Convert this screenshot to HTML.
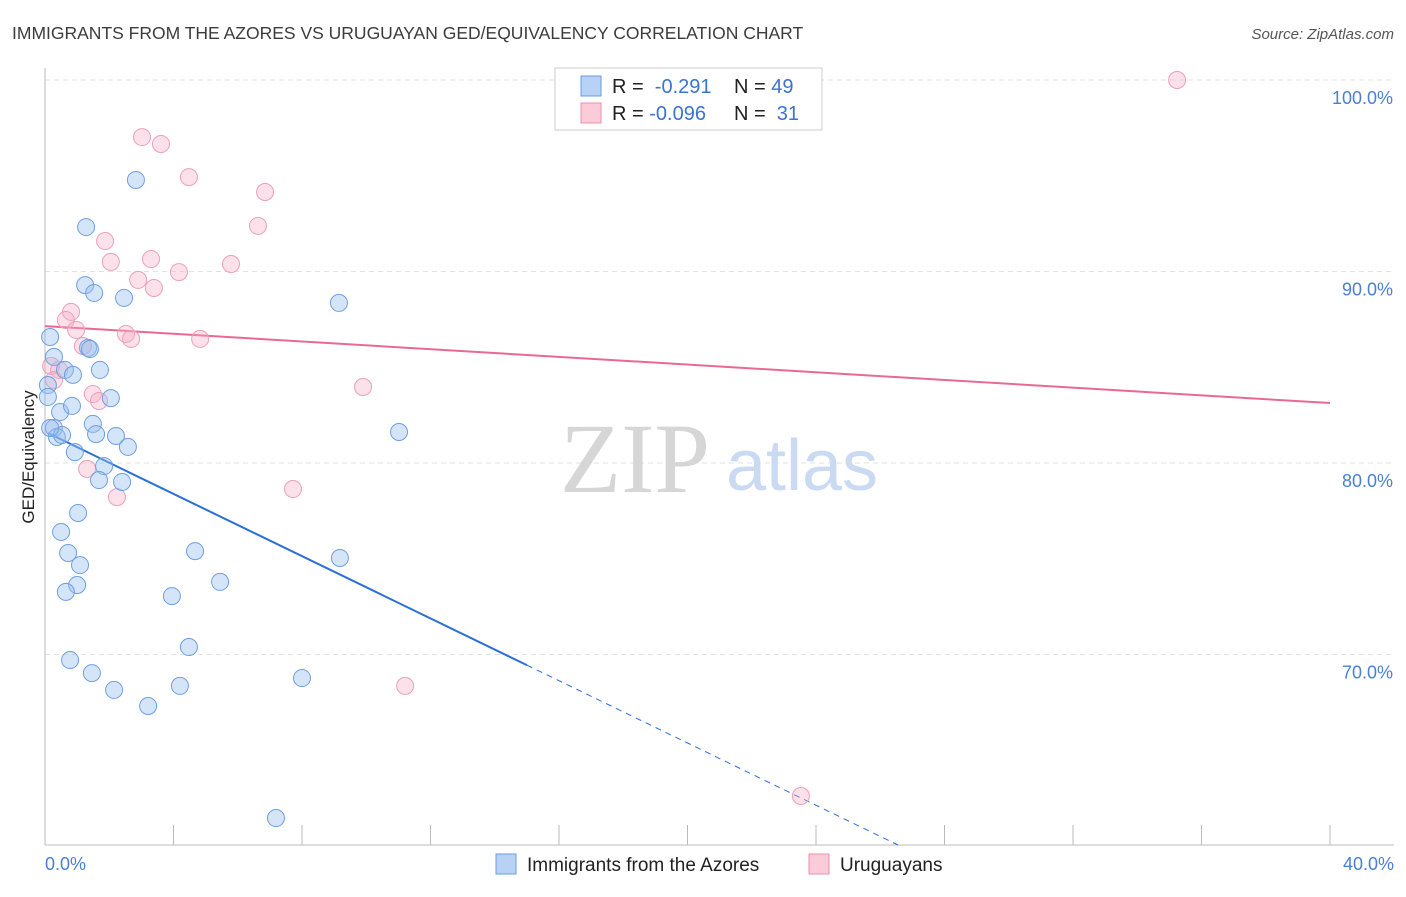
<!DOCTYPE html>
<html><head><meta charset="utf-8"><style>
body{margin:0;background:#fff;font-family:"Liberation Sans",sans-serif;}
svg text{font-family:"Liberation Sans",sans-serif;}
</style></head><body>
<svg width="1406" height="892" xmlns="http://www.w3.org/2000/svg" id="chart">
<text x="12" y="39" font-size="17.5" fill="#3c3c3c">IMMIGRANTS FROM THE AZORES VS URUGUAYAN GED/EQUIVALENCY CORRELATION CHART</text>
<text x="1394" y="39" font-size="15" fill="#555" font-style="italic" text-anchor="end">Source: ZipAtlas.com</text>
<g id="grid"></g>
<g>
<text x="635" y="492" font-size="100" fill="#d6d6d6" style="font-family:'Liberation Serif',serif" text-anchor="middle">ZIP</text>
<text x="802" y="490" font-size="72" fill="#c9daf2" text-anchor="middle">atlas</text>
</g>
<line x1="45" y1="68" x2="45" y2="845" stroke="#bbb"/>
<line x1="45" y1="845" x2="1394" y2="845" stroke="#bbb"/>
<g id="trends"></g>
<g id="points"></g>
<text transform="translate(34,457) rotate(-90)" font-size="17" fill="#222" text-anchor="middle">GED/Equivalency</text>
<text x="45" y="870" font-size="18" fill="#4a7fd4">0.0%</text>
<text x="1394" y="870" font-size="18" fill="#4a7fd4" text-anchor="end">40.0%</text>
<g>
<rect x="555" y="68" width="267" height="62" fill="#fff" stroke="#ccc"/>
<rect x="581" y="76" width="20" height="20" fill="#b8d2f5" stroke="#6b9be0"/>
<rect x="581" y="103" width="20" height="20" fill="#fbcbd9" stroke="#e890ab"/>
<text x="612" y="93" font-size="20" fill="#222">R = <tspan fill="#3b73d1">&#160;-0.291</tspan></text>
<text x="734" y="93" font-size="20" fill="#222">N = <tspan fill="#3b73d1">49</tspan></text>
<text x="612" y="120" font-size="20" fill="#222">R = <tspan fill="#3b73d1">-0.096</tspan></text>
<text x="734" y="120" font-size="20" fill="#222">N = <tspan fill="#3b73d1">&#160;31</tspan></text>
</g>
<g>
<rect x="496" y="854" width="20" height="20" fill="#b8d2f5" stroke="#6b9be0"/>
<text x="527" y="871" font-size="19" fill="#222">Immigrants from the Azores</text>
<rect x="809" y="854" width="20" height="20" fill="#fbcbd9" stroke="#e890ab"/>
<text x="840" y="871" font-size="19" fill="#222">Uruguayans</text>
</g>
</svg>
<script>
const yTicks=[100,90,80,70];
const xTickCount=10;
const xMax=40;
const blueX=[2.83,1.28,1.25,1.53,2.46,9.15,0.16,0.28,1.34,1.40,0.62,0.87,1.71,0.09,0.09,2.05,0.47,0.84,1.49,0.28,0.37,0.53,1.59,2.21,2.58,0.93,11.02,1.84,1.68,2.40,1.03,0.50,0.72,1.09,4.67,9.18,1.00,0.65,5.45,3.95,4.48,0.78,1.46,2.15,4.20,8.00,3.21,7.19,0.16];
const blueY=[94.78,92.32,89.29,88.88,88.62,88.36,86.58,85.54,86.01,85.95,84.86,84.60,84.86,84.07,83.45,83.39,82.66,82.98,82.04,81.83,81.36,81.46,81.51,81.41,80.84,80.57,81.62,79.84,79.11,79.01,77.39,76.40,75.30,74.67,75.40,75.04,73.63,73.27,73.79,73.05,70.39,69.71,69.03,68.15,68.36,68.77,67.31,61.46,81.83];
const pinkX=[35.24,3.02,3.61,4.48,6.85,6.63,1.87,2.05,3.30,5.79,4.17,2.90,3.39,0.81,0.65,0.97,2.52,2.68,4.83,1.18,0.19,0.44,0.28,1.49,1.68,9.90,1.31,2.24,7.72,11.21,23.53];
const pinkY=[100.0,97.02,96.66,94.93,94.15,92.38,91.59,90.50,90.65,90.39,89.97,89.56,89.14,87.89,87.47,86.95,86.74,86.48,86.48,86.11,85.07,84.86,84.33,83.60,83.24,83.97,79.69,78.22,78.64,68.36,62.61];
const blueTrend=[81.64,-0.813];
const pinkTrend=[87.15,-0.1005];
const blueSolidEnd=15.0;
const NS="http://www.w3.org/2000/svg";
const xs=v=>45+v/xMax*1285;
const ys=v=>80+(100-v)*19.15;
function mk(tag,attrs,parent){const e=document.createElementNS(NS,tag);for(const k in attrs)e.setAttribute(k,attrs[k]);parent.appendChild(e);return e;}
const grid=document.getElementById('grid');
yTicks.forEach(t=>{
 const l=mk('line',{x1:45,x2:1394,y1:ys(t),y2:ys(t),stroke:'#e2e2e2','stroke-dasharray':'5,4'},grid);
 
 
 const tx=mk('text',{x:1393,y:ys(t)+24,'font-size':18,fill:'#4a7fd4','text-anchor':'end'},grid);
 tx.textContent=t.toFixed(1)+'%';
 
 
});
for(let i=1;i<=xTickCount;i++){
 const l=mk('line',{x1:xs(i*xMax/xTickCount),x2:xs(i*xMax/xTickCount),y1:825,y2:845,stroke:'#bbb'},grid);
 
 
}
const pts=document.getElementById('points');
pinkX.forEach((x,i)=>{
 const c=mk('circle',{cx:xs(x),cy:ys(pinkY[i]),r:8.5,fill:'rgba(245,170,195,0.35)',stroke:'#eba0b8','stroke-width':1},pts);
 
 
});
blueX.forEach((x,i)=>{
 const c=mk('circle',{cx:xs(x),cy:ys(blueY[i]),r:8.5,fill:'rgba(150,190,240,0.4)',stroke:'#6f9fe0','stroke-width':1},pts);
 
 
});
const tr=document.getElementById('trends');
const bf=x=>blueTrend[0]+blueTrend[1]*x;
const pf=x=>pinkTrend[0]+pinkTrend[1]*x;
let l=mk('line',{x1:xs(0.1),y1:ys(bf(0.1)),x2:xs(blueSolidEnd),y2:ys(bf(blueSolidEnd)),stroke:'#2a6fd8','stroke-width':2},tr);


const xEnd=(blueTrend[0]-(100-(845-80)/19.15))/-blueTrend[1];
l=mk('line',{x1:xs(blueSolidEnd),y1:ys(bf(blueSolidEnd)),x2:xs(xEnd),y2:ys(bf(xEnd)),stroke:'#2a6fd8','stroke-width':1,'stroke-dasharray':'6,5'},tr);


l=mk('line',{x1:xs(0),y1:ys(pf(0)),x2:xs(xMax),y2:ys(pf(xMax)),stroke:'#e86a94','stroke-width':2},tr);


</script>
</body></html>
